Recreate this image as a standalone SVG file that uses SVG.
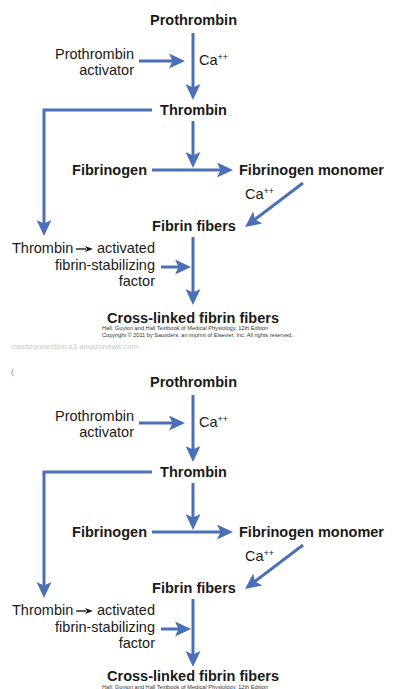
<svg xmlns="http://www.w3.org/2000/svg" width="408" height="689" viewBox="0 0 408 689">
<defs>
<style>
text{font-family:"Liberation Sans",Arial,Helvetica,sans-serif;fill:#1a1a1a}
.b{font-weight:bold;font-size:14.5px}
.r{font-size:14.5px}
.sup{font-size:9px}
.c{fill:none;stroke:#4b70b8;stroke-width:3;marker-end:url(#ah)}
.k{fill:none;stroke:#1a1a1a;stroke-width:1.4;marker-end:url(#sh)}
.cr{font-size:5.3px;fill:#333}
</style>
<marker id="ah" viewBox="0 0 16 15" refX="6" refY="7.5" markerWidth="16" markerHeight="15" markerUnits="userSpaceOnUse" orient="auto">
<path d="M0,0 L16,7.5 L0,15 L3.5,7.5 Z" fill="#4b70b8"/>
</marker>
<marker id="sh" viewBox="0 0 8 6" refX="1" refY="3" markerWidth="8" markerHeight="6" markerUnits="userSpaceOnUse" orient="auto">
<path d="M0,0 L8,3 L0,6 L2,3 Z" fill="#1a1a1a"/>
</marker>
</defs>
<rect width="408" height="689" fill="#ffffff"/>

<g id="panel1">
<g id="connectors1">
<line class="c" x1="193" y1="33" x2="193" y2="90"/>
<line class="c" x1="139" y1="61" x2="175" y2="61"/>
<polyline class="c" points="152,110 44,110 44,226"/>
<line class="c" x1="193" y1="121" x2="193" y2="158"/>
<line class="c" x1="152" y1="170" x2="223" y2="170"/>
<line class="c" x1="303" y1="183" x2="253" y2="221"/>
<line class="c" x1="193" y1="237" x2="193" y2="295"/>
<line class="c" x1="161" y1="267" x2="181" y2="267"/>
<line class="k" x1="76" y1="249" x2="86" y2="249"/>
</g>
<g id="prothrombin1"><text class="b" x="193.5" y="25" text-anchor="middle">Prothrombin</text></g>
<g id="activator1"><text class="r" x="134" y="59" text-anchor="end">Prothrombin</text><text class="r" x="134" y="75" text-anchor="end">activator</text></g>
<g id="ca1"><text class="r" x="199" y="65">Ca<tspan class="sup" dy="-5">++</tspan></text></g>
<g id="thrombin1"><text class="b" x="193.5" y="115" text-anchor="middle">Thrombin</text></g>
<g id="fibrinogen1"><text class="b" x="147" y="175" text-anchor="end">Fibrinogen</text></g>
<g id="monomer1"><text class="b" x="239" y="175">Fibrinogen monomer</text></g>
<g id="ca1b"><text class="r" x="245" y="199">Ca<tspan class="sup" dy="-5">++</tspan></text></g>
<g id="fibrin1"><text class="b" x="194" y="231" text-anchor="middle">Fibrin fibers</text></g>
<g id="factor1"><text class="r" x="12" y="253">Thrombin</text><text class="r" x="155" y="253" text-anchor="end">activated</text><text class="r" x="155" y="269.5" text-anchor="end">fibrin-stabilizing</text><text class="r" x="155" y="286" text-anchor="end">factor</text></g>
<g id="crosslinked1"><text class="b" x="193" y="323" text-anchor="middle" style="font-size:15.5px" textLength="172" lengthAdjust="spacingAndGlyphs">Cross-linked fibrin fibers</text></g>
<g id="credit1"><text class="cr" x="102" y="330" textLength="166" lengthAdjust="spacingAndGlyphs">Hall: Guyton and Hall Textbook of Medical Physiology, 12th Edition</text><text class="cr" x="102" y="337" textLength="191" lengthAdjust="spacingAndGlyphs">Copyright © 2011 by Saunders, an imprint of Elsevier, Inc. All rights reserved.</text></g>
</g>

<g id="source"><text x="11" y="349" style="font-size:8px;fill:#c8c8c8" textLength="127" lengthAdjust="spacingAndGlyphs">classconnection.s3.amazonaws.com</text><text x="11" y="374" style="font-size:8px;fill:#888">(</text></g>

<g id="panel2" transform="translate(0,362)">
<g id="connectors2">
<line class="c" x1="193" y1="33" x2="193" y2="90"/>
<line class="c" x1="139" y1="61" x2="175" y2="61"/>
<polyline class="c" points="152,110 44,110 44,226"/>
<line class="c" x1="193" y1="121" x2="193" y2="158"/>
<line class="c" x1="152" y1="170" x2="223" y2="170"/>
<line class="c" x1="303" y1="183" x2="253" y2="221"/>
<line class="c" x1="193" y1="237" x2="193" y2="295"/>
<line class="c" x1="161" y1="267" x2="181" y2="267"/>
<line class="k" x1="76" y1="249" x2="86" y2="249"/>
</g>
<g id="prothrombin2"><text class="b" x="193.5" y="25" text-anchor="middle">Prothrombin</text></g>
<g id="activator2"><text class="r" x="134" y="59" text-anchor="end">Prothrombin</text><text class="r" x="134" y="75" text-anchor="end">activator</text></g>
<g id="ca2"><text class="r" x="199" y="65">Ca<tspan class="sup" dy="-5">++</tspan></text></g>
<g id="thrombin2"><text class="b" x="193.5" y="115" text-anchor="middle">Thrombin</text></g>
<g id="fibrinogen2"><text class="b" x="147" y="175" text-anchor="end">Fibrinogen</text></g>
<g id="monomer2"><text class="b" x="239" y="175">Fibrinogen monomer</text></g>
<g id="ca2b"><text class="r" x="245" y="199">Ca<tspan class="sup" dy="-5">++</tspan></text></g>
<g id="fibrin2"><text class="b" x="194" y="231" text-anchor="middle">Fibrin fibers</text></g>
<g id="factor2"><text class="r" x="12" y="253">Thrombin</text><text class="r" x="155" y="253" text-anchor="end">activated</text><text class="r" x="155" y="269.5" text-anchor="end">fibrin-stabilizing</text><text class="r" x="155" y="286" text-anchor="end">factor</text></g>
<g id="crosslinked2"><text class="b" x="193" y="319.3" text-anchor="middle" style="font-size:15.5px" textLength="172" lengthAdjust="spacingAndGlyphs">Cross-linked fibrin fibers</text></g>
<g id="credit2"><text class="cr" x="102" y="327.4" textLength="166" lengthAdjust="spacingAndGlyphs">Hall: Guyton and Hall Textbook of Medical Physiology, 12th Edition</text></g>
</g>
</svg>
